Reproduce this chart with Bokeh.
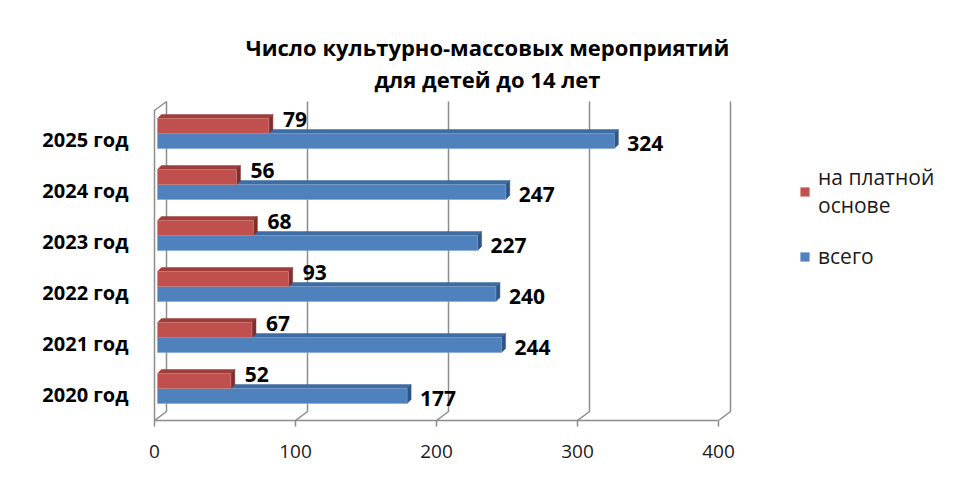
import numpy as np
from bokeh.plotting import figure
from bokeh.models import Range1d, FixedTicker, Legend, LegendItem, Label
from bokeh.core.properties import value
from bokeh.embed import file_html
from bokeh.resources import INLINE

# ---------------- data ----------------
years = ["2020 год", "2021 год", "2022 год", "2023 год", "2024 год", "2025 год"]
paid = [52, 67, 93, 68, 56, 79]
total = [177, 244, 240, 227, 247, 324]
x_ticks = [0, 100, 200, 300, 400]
series_names = ["на платной\nоснове", "всего"]
title_lines = ["Число культурно-массовых мероприятий", "для детей до 14 лет"]

# ---------------- layout (page pixels) ----------------
W, H = 944, 464
FRAME_L, FRAME_R, FRAME_T, FRAME_B = 140, 944, 0, 420
X0_PAGE = 154        # front-plane value 0
PXU = 1.41           # px per value unit
CAT_TOP_PAGE = 139   # page y of top category label
PYC = 51             # px per category
FONT = "Open Sans"

RED, RED_TOP, RED_SIDE = "#C0504D", "#9E3D3A", "#7E2F2C"
BLUE, BLUE_TOP, BLUE_SIDE = "#4F81BD", "#3E6CA3", "#2F5586"
GRID = "#8C8C8C"

n = len(years)
ux = lambda px: px / PXU
uy = lambda px: px / PYC

x_start = (FRAME_L - X0_PAGE) / PXU
x_end = x_start + (FRAME_R - FRAME_L) / PXU
y_start = (n - 1) - (FRAME_B - CAT_TOP_PAGE) / PYC
y_end = (n - 1) + (CAT_TOP_PAGE - FRAME_T) / PYC

p = figure(width=W, height=H, output_backend="svg", toolbar_location=None,
           x_range=Range1d(x_start, x_end), y_range=Range1d(y_start, y_end),
           min_border_left=FRAME_L, min_border_right=W - FRAME_R,
           min_border_top=FRAME_T, min_border_bottom=H - FRAME_B)
p.outline_line_color = None
p.xgrid.visible = False
p.ygrid.visible = False
p.background_fill_color = "white"
p.border_fill_color = "white"

# ---------------- 3D frame: back wall gridlines, left wall, floor ----------------
BACK_DX, BACK_DY = ux(12), uy(9)
k_top = (n - 1) + (CAT_TOP_PAGE - 101) / PYC   # top of back plane
xs, ys = [], []
for v in x_ticks:
    xs.append([v, v + BACK_DX, v + BACK_DX])
    ys.append([y_start, y_start + BACK_DY, k_top])
xs.append([0, 0, BACK_DX])
ys.append([y_start, k_top - BACK_DY, k_top])
p.multi_line(xs, ys, line_color=GRID, line_width=1.5)

# ---------------- bars ----------------
k = np.arange(n)
BAR_DX = ux(3)
BH = uy(15)
FD_X, FD_Y = ux(4), uy(4)
red_y = k + uy(13.5)
blue_y = k - uy(1.5)


def faces(vals, yc):
    tops_x, tops_y, side_x, side_y = [], [], [], []
    for v, c in zip(vals, yc):
        L, R = BAR_DX, BAR_DX + v
        T, B = c + BH / 2, c - BH / 2
        tops_x.append([L, R, R + FD_X, L + FD_X])
        tops_y.append([T, T, T + FD_Y, T + FD_Y])
        side_x.append([R, R + FD_X, R + FD_X, R])
        side_y.append([T, T + FD_Y, B + FD_Y, B])
    return tops_x, tops_y, side_x, side_y


btx, bty, bsx, bsy = faces(total, blue_y)
p.patches(btx, bty, fill_color=BLUE_TOP, line_color=BLUE_TOP, line_width=0.5)
p.patches(bsx, bsy, fill_color=BLUE_SIDE, line_color=BLUE_SIDE, line_width=0.5)
blue_r = p.hbar(y=blue_y, left=BAR_DX, right=[BAR_DX + v for v in total], height=BH,
                fill_color=BLUE, line_color="#7FA3D0", line_width=0.6)

rtx, rty, rsx, rsy = faces(paid, red_y)
p.patches(rtx, rty, fill_color=RED_TOP, line_color=RED_TOP, line_width=0.5)
p.patches(rsx, rsy, fill_color=RED_SIDE, line_color=RED_SIDE, line_width=0.5)
red_r = p.hbar(y=red_y, left=BAR_DX, right=[BAR_DX + v for v in paid], height=BH,
               fill_color=RED, line_color="#D38381", line_width=0.6)

# value labels
p.text(x=[BAR_DX + v for v in paid], y=red_y, text=[str(v) for v in paid],
       x_offset=14, y_offset=-6.5, text_align="left", text_baseline="middle",
       text_font=value(FONT), text_font_style="bold", text_font_size="21px", text_color="#000000")
p.text(x=[BAR_DX + v for v in total], y=blue_y, text=[str(v) for v in total],
       x_offset=13, y_offset=2.5, text_align="left", text_baseline="middle",
       text_font=value(FONT), text_font_style="bold", text_font_size="21px", text_color="#000000")

# ---------------- axes ----------------
xa = p.xaxis[0]
xa.ticker = FixedTicker(ticks=x_ticks)
xa.bounds = (min(x_ticks), max(x_ticks))
xa.axis_line_color = GRID
xa.axis_line_width = 1.5
xa.major_tick_line_color = GRID
xa.major_tick_line_width = 1.5
xa.major_tick_out = 6
xa.major_tick_in = 0
xa.minor_tick_line_color = None
xa.major_label_text_font = FONT
xa.major_label_text_font_size = "19px"
xa.major_label_text_color = "#1a1a1a"
xa.major_label_standoff = 18

ya = p.yaxis[0]
ya.ticker = FixedTicker(ticks=list(range(n)))
ya.major_label_overrides = {i: years[i] for i in range(n)}
ya.axis_line_color = None
ya.major_tick_line_color = None
ya.minor_tick_line_color = None
ya.major_label_text_font = FONT
ya.major_label_text_font_style = "bold"
ya.major_label_text_font_size = "20px"
ya.major_label_text_color = "#000000"
ya.major_label_standoff = 6

# ---------------- title ----------------
title_x = (487 - X0_PAGE) / PXU
for line, page_y in zip(title_lines, [46, 78]):
    p.add_layout(Label(x=title_x, y=(n - 1) + (CAT_TOP_PAGE - page_y) / PYC, text=line,
                       text_align="center", text_baseline="middle",
                       text_font=FONT, text_font_style="bold", text_font_size="22px",
                       text_color="#000000"))

# ---------------- legend ----------------
legend = Legend(items=[LegendItem(label=series_names[0], renderers=[red_r]),
                       LegendItem(label=series_names[1], renderers=[blue_r])],
                location=(659, 150), orientation="vertical",
                glyph_width=11, glyph_height=11, label_standoff=8,
                label_text_font=FONT, label_text_font_size="21px", label_text_color="#1a1a1a",
                spacing=23, padding=0, margin=0,
                border_line_color=None, background_fill_alpha=0)
p.add_layout(legend, "center")

open("out.html", "w").write(file_html(p, INLINE))
